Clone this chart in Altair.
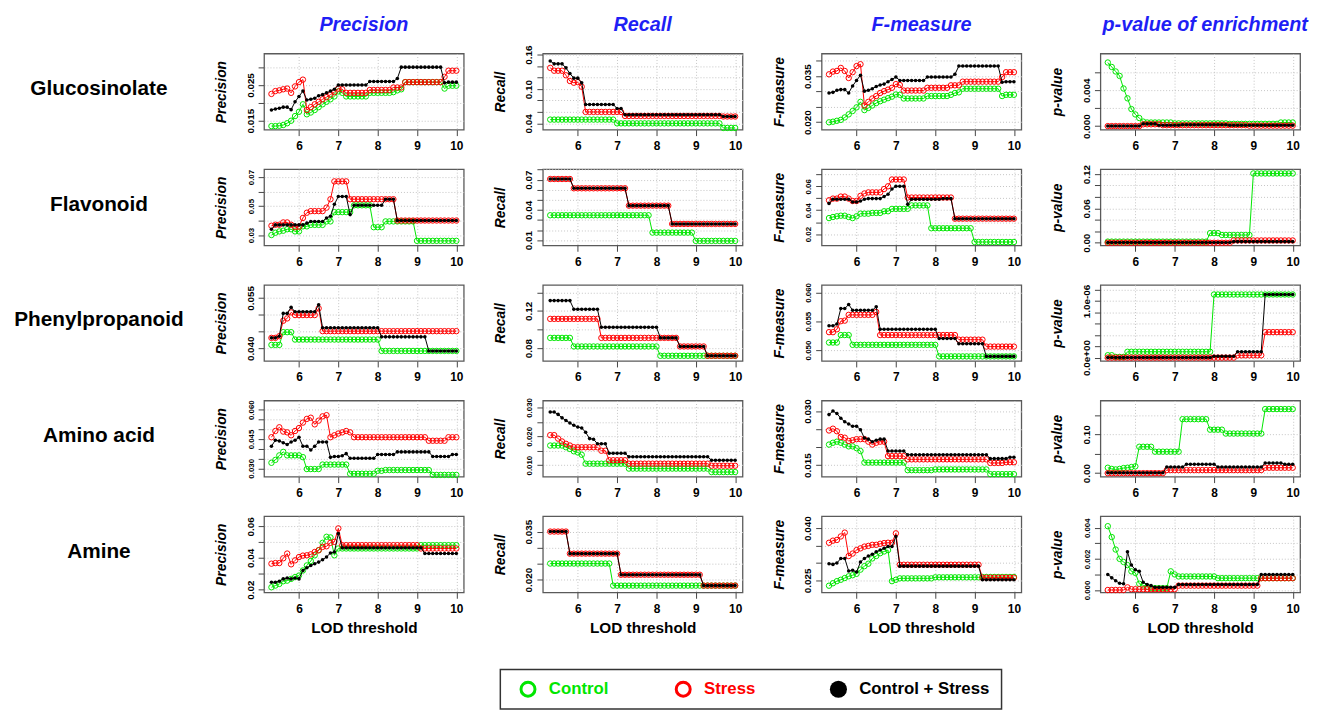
import altair as alt
import pandas as pd

FONT = "Liberation Sans"
X = [5.3, 5.4, 5.5, 5.6, 5.7, 5.8, 5.9, 6.0, 6.1, 6.2, 6.3, 6.4, 6.5, 6.6, 6.7, 6.8,
     6.9, 7.0, 7.1, 7.2, 7.3, 7.4, 7.5, 7.6, 7.7, 7.8, 7.9, 8.0, 8.1, 8.2, 8.3, 8.4,
     8.5, 8.6, 8.7, 8.8, 8.9, 9.0, 9.1, 9.2, 9.3, 9.4, 9.5, 9.6, 9.7, 9.8, 9.9, 10.0]
XTICKS = [6, 7, 8, 9, 10]
SERIES = ["Control", "Stress", "Control + Stress"]
COLORS = ["#00e600", "#ff0000", "#000000"]
ROWS = ["Glucosinolate", "Flavonoid", "Phenylpropanoid", "Amino acid", "Amine"]
COLS = ["Precision", "Recall", "F-measure", "p-value of enrichment"]
COL_DX = [0, 0, 0, 5]
YTITLES = ["Precision", "Recall", "F-measure", "p-value"]

# ---------------- Glucosinolate ----------------
gluc_prec_c = [0.0135, 0.0135, 0.0136, 0.0138, 0.0143, 0.015, 0.0163, 0.0175, 0.0196, 0.0168, 0.0173, 0.018, 0.0188, 0.0196, 0.0203, 0.021, 0.0218, 0.0232, 0.0228] + [0.0218]*6 + [0.0228]*6 + [0.023, 0.0235, 0.0238] + [0.0258]*10 + [0.024, 0.0248, 0.0248, 0.0248]
gluc_prec_s = [0.0225, 0.0233, 0.0235, 0.0238, 0.024, 0.0228, 0.0246, 0.0258, 0.0265, 0.018, 0.0188, 0.0196, 0.0203, 0.021, 0.0216, 0.0223, 0.023, 0.024, 0.0238] + [0.0228]*6 + [0.0236]*6 + [0.0243]*3 + [0.0258]*10 + [0.0273, 0.029, 0.029, 0.029]
gluc_prec_b = [0.018, 0.0183, 0.0185, 0.0188, 0.0188, 0.0181, 0.0203, 0.0218, 0.0233, 0.0208, 0.021, 0.0213, 0.022, 0.0223, 0.0228, 0.0233, 0.0238, 0.025] + [0.025]*7 + [0.026]*7 + [0.0268] + [0.030]*11 + [0.0256, 0.0258, 0.0258, 0.0258]

gluc_rec_c = [0.0466]*17 + [0.040]*27 + [0.032]*4
gluc_rec_s = [0.137, 0.132, 0.132, 0.132, 0.124, 0.114, 0.111, 0.112, 0.104] + [0.060]*10 + [0.053]*25 + [0.052]*4
gluc_rec_b = [0.149, 0.144, 0.144, 0.144, 0.137, 0.127, 0.119, 0.119, 0.111] + [0.073]*8 + [0.066]*2 + [0.055]*25 + [0.052]*4

gluc_f_c = [0.0199, 0.0201, 0.0204, 0.0207, 0.0215, 0.0225, 0.0236, 0.0248, 0.0266, 0.0239, 0.0246, 0.0254, 0.0262, 0.0268, 0.0273, 0.0278, 0.0283, 0.029, 0.0289] + [0.0277]*6 + [0.0285]*6 + [0.0289, 0.0295, 0.0297] + [0.0309]*10 + [0.0285, 0.0289, 0.0289, 0.0289]
gluc_f_s = [0.0356, 0.0365, 0.0367, 0.0377, 0.0367, 0.0344, 0.0363, 0.0383, 0.0389, 0.0254, 0.0266, 0.0277, 0.0285, 0.0295, 0.0301, 0.0306, 0.0312, 0.0324, 0.0321] + [0.0303]*6 + [0.0312]*6 + [0.032]*3 + [0.0332]*10 + [0.0347, 0.0363, 0.0363, 0.0363]
gluc_f_b = [0.0295, 0.0297, 0.0304, 0.0306, 0.0306, 0.0295, 0.0318, 0.0336, 0.0353, 0.0301, 0.0304, 0.0309, 0.0316, 0.0321, 0.0324, 0.0332, 0.0339, 0.0347] + [0.0336]*7 + [0.0347]*7 + [0.0356] + [0.0383]*11 + [0.033, 0.0332, 0.0332, 0.0332]

gluc_p_c = [0.0071, 0.0066, 0.0061, 0.0056, 0.0042, 0.0031, 0.0019, 0.0013, 0.0009, 0.0005] + [0.0004]*7 + [0.0003]*14 + [0.00025]*13 + [0.0004]*4
gluc_p_s = [0.0]*9 + [0.0002]*5 + [0.0001]*22 + [0.00005]*12
gluc_p_b = [0.0]*9 + [0.00025]*4 + [0.0001]*6 + [0.00015]*12 + [0.0001]*17

# ---------------- Flavonoid ----------------
flav_prec_c = [0.030, 0.0316, 0.0325, 0.033, 0.034, 0.034, 0.0325, 0.0325, 0.036, 0.036, 0.037, 0.037, 0.037, 0.037, 0.0394, 0.0394] + [0.0458]*5 + [0.0505]*5 + [0.0354]*3 + [0.0394]*8 + [0.026]*11
flav_prec_s = [0.0364, 0.0371, 0.0371, 0.0387, 0.0387, 0.0371, 0.0354, 0.0358, 0.0418, 0.0454, 0.0465, 0.0465, 0.0465, 0.0465, 0.0489, 0.0547, 0.067, 0.067, 0.067, 0.067] + [0.0547]*12 + [0.040]*16
flav_prec_b = [0.034, 0.037, 0.037, 0.037, 0.037, 0.037, 0.037, 0.037, 0.037, 0.0382, 0.0394, 0.0394, 0.0394, 0.0394, 0.0418, 0.0429, 0.0512, 0.0566, 0.0566, 0.0566, 0.0441] + [0.0505]*8 + [0.0547]*3 + [0.040]*16

flav_rec_c = [0.0347]*26 + [0.0175]*11 + [0.0093]*11
flav_rec_s = [0.0706]*6 + [0.0614]*14 + [0.0442]*11 + [0.0261]*17
flav_rec_b = [0.0706]*6 + [0.0614]*14 + [0.0442]*11 + [0.0261]*17

flav_f_c = [0.0334, 0.0343, 0.0349, 0.0354, 0.0354, 0.0343, 0.0334, 0.0349, 0.0371, 0.0371, 0.0371, 0.0377, 0.0377, 0.0377, 0.0391, 0.0391] + [0.0411]*5 + [0.044]*5 + [0.0249]*11 + [0.0134]*11
flav_f_s = [0.0483, 0.0497, 0.0497, 0.0514, 0.0514, 0.0497, 0.0477, 0.0477, 0.052, 0.054, 0.0549, 0.0549, 0.0549, 0.0549, 0.0577, 0.06, 0.0657, 0.0657, 0.0657, 0.0657] + [0.0506]*12 + [0.0329]*16
flav_f_b = [0.0457, 0.0491, 0.0491, 0.0491, 0.0491, 0.0491, 0.0469, 0.0469, 0.0477, 0.0491, 0.0497, 0.0497, 0.0497, 0.0497, 0.0514, 0.0534, 0.0577, 0.06, 0.06, 0.06, 0.0449] + [0.0491]*8 + [0.0497]*3 + [0.0329]*16

flav_p_c = [0.002]*26 + [0.0168]*3 + [0.0135]*8 + [0.121]*11
flav_p_s = [0.0]*32 + [0.004]*16
flav_p_b = [0.0005]*32 + [0.002]*16

# ---------------- Phenylpropanoid ----------------
phen_prec_c = [0.041]*3 + [0.0448]*3 + [0.0426]*22 + [0.0392]*20
phen_prec_s = [0.0431, 0.0431, 0.0436, 0.0482, 0.0489, 0.0507] + [0.0499]*6 + [0.0519] + [0.0451]*35
phen_prec_b = [0.0431, 0.0431, 0.0436, 0.0504, 0.0504, 0.0522] + [0.0509]*6 + [0.053] + [0.0461]*15 + [0.0434]*12 + [0.0392]*8

phen_rec_c = [0.0911]*6 + [0.0819]*22 + [0.0719]*20
phen_rec_s = [0.1115]*13 + [0.0911]*20 + [0.0819]*7 + [0.0719]*8
phen_rec_b = [0.1311]*6 + [0.1219]*7 + [0.1026]*15 + [0.0911]*5 + [0.0819]*7 + [0.0719]*8

phen_f_c = [0.0513]*3 + [0.0526]*3 + [0.0509]*22 + [0.0489]*20
phen_f_s = [0.0531, 0.0531, 0.0536, 0.055, 0.0551, 0.0561] + [0.0561]*6 + [0.0566] + [0.0526]*20 + [0.0518]*7 + [0.0506]*8
phen_f_b = [0.0542, 0.0542, 0.0545, 0.0572, 0.0572, 0.0579] + [0.0569]*6 + [0.0575] + [0.0536]*15 + [0.052]*5 + [0.0511]*7 + [0.0489]*8

phen_p_c = [0.042e-6]*2 + [0.012e-6]*3 + [0.103e-6]*22 + [1.115e-6]*21
phen_p_s = [0.0]*33 + [0.04e-6]*7 + [0.45e-6]*8
phen_p_b = [0.0]*27 + [0.024e-6]*6 + [0.103e-6]*7 + [1.115e-6]*8

# ---------------- Amino acid ----------------
amino_prec_c = [0.0328, 0.0343, 0.0366, 0.0384, 0.0366, 0.0366, 0.0366, 0.0366, 0.0357] + [0.0296]*4 + [0.0319]*7 + [0.0272]*7 + [0.0287]*2 + [0.0291]*12 + [0.0266]*7
amino_prec_s = [0.0459, 0.0491, 0.051, 0.0488, 0.0484, 0.0469, 0.0491, 0.0506, 0.0534, 0.0553, 0.0559, 0.0525, 0.0544, 0.0566, 0.0572, 0.0459, 0.0469, 0.0478, 0.0484, 0.0491, 0.0484] + [0.0459]*19 + [0.0441]*5 + [0.0459]*3
amino_prec_b = [0.0413, 0.0444, 0.044, 0.0431, 0.0422, 0.0435, 0.0444, 0.0459, 0.0413, 0.0413, 0.0394, 0.0413, 0.0435, 0.0435, 0.0435, 0.0356, 0.036, 0.036, 0.0364, 0.0375] + [0.0351]*7 + [0.0371]*5 + [0.0384]*9 + [0.036]*5 + [0.0371]*2

amino_rec_c = [0.0168]*4 + [0.0162, 0.0156, 0.0148, 0.0144, 0.0136] + [0.0105]*11 + [0.0088]*21 + [0.0076]*7
amino_rec_s = [0.0204, 0.0204, 0.0192, 0.0182, 0.0174, 0.0168] + [0.0162]*7 + [0.015]*2 + [0.0117]*5 + [0.0105]*21 + [0.0098]*7
amino_rec_b = [0.0284, 0.0284, 0.0276, 0.0264, 0.0255, 0.0246, 0.0238, 0.0232, 0.0229, 0.0214, 0.0192, 0.019] + [0.0174]*3 + [0.0141]*5 + [0.0129]*21 + [0.0117]*7

amino_f_c = [0.0207, 0.0212, 0.0215, 0.0212, 0.0207, 0.0202, 0.0202, 0.0197, 0.0189] + [0.0157]*11 + [0.0136]*7 + [0.0138]*14 + [0.0125]*7
amino_f_s = [0.0246, 0.0251, 0.0244, 0.0228, 0.0226, 0.0217, 0.0219, 0.0222, 0.0222, 0.0222, 0.0215, 0.0207, 0.0212, 0.0215, 0.0215] + [0.0175]*5 + [0.0166]*21 + [0.0156]*4 + [0.0158]*3
amino_f_b = [0.029, 0.030, 0.0293, 0.028, 0.027, 0.0264, 0.0258, 0.0258, 0.0248, 0.0225, 0.0222, 0.0215, 0.0219, 0.0222, 0.0222] + [0.0189]*5 + [0.0179]*21 + [0.0168]*5 + [0.0172]*2

amino_p_c = [0.014, 0.011, 0.0096, 0.011, 0.0132, 0.014, 0.0158, 0.0175] + [0.068]*4 + [0.0553]*7 + [0.139]*7 + [0.112]*4 + [0.102]*10 + [0.165]*8
amino_p_s = [0.0]*15 + [0.008]*25 + [0.014]*8
amino_p_b = [0.001]*15 + [0.0158]*5 + [0.0228]*8 + [0.0158]*12 + [0.026]*5 + [0.0228]*3

# ---------------- Amine ----------------
amine_prec_c = [0.0215, 0.0226, 0.0236, 0.0253, 0.0257, 0.0268, 0.0279, 0.0289, 0.0321, 0.0353, 0.0381, 0.0417, 0.0449, 0.0496, 0.0534, 0.053, 0.0417, 0.046] + [0.046]*20 + [0.0481]*10
amine_prec_s = [0.0364, 0.0368, 0.0368, 0.0398, 0.0428, 0.036, 0.0385, 0.0406, 0.0415, 0.0417, 0.0423, 0.0438, 0.0449, 0.047, 0.0474, 0.0496, 0.0502, 0.0587] + [0.0481]*20 + [0.046]*10
amine_prec_b = [0.0247, 0.0247, 0.0253, 0.0268, 0.0274, 0.0268, 0.0274, 0.0268, 0.0321, 0.0338, 0.0353, 0.0364, 0.0374, 0.0389, 0.0406, 0.0432, 0.0438, 0.0555] + [0.0464]*21 + [0.0428]*9

amine_rec_c = [0.025]*16 + [0.0181]*32
amine_rec_s = [0.035]*5 + [0.0281]*13 + [0.0215]*21 + [0.0181]*9
amine_rec_b = [0.035]*5 + [0.0281]*13 + [0.0215]*21 + [0.0181]*9

amine_f_c = [0.0235, 0.0242, 0.0248, 0.0252, 0.0257, 0.0262, 0.0265, 0.0269, 0.0281, 0.0291, 0.0298, 0.0313, 0.032, 0.0328, 0.0333, 0.0337, 0.0248, 0.0252] + [0.0256]*9 + [0.0259]*12 + [0.026]*9
amine_f_s = [0.0358, 0.0364, 0.0366, 0.0376, 0.0387, 0.032, 0.0327, 0.0337, 0.0342, 0.0347, 0.0349, 0.0352, 0.0352, 0.0355, 0.0357, 0.0358, 0.0358, 0.0385] + [0.0295]*21 + [0.0258]*9
amine_f_b = [0.0298, 0.0296, 0.03, 0.0313, 0.0313, 0.0277, 0.0279, 0.0274, 0.0303, 0.0313, 0.032, 0.0325, 0.0332, 0.0337, 0.0342, 0.0347, 0.0347, 0.0376] + [0.0291]*21 + [0.0252]*9

amine_p_c = [0.0041, 0.0034, 0.0026, 0.002, 0.0018, 0.0016, 0.0012, 0.0011, 0.0004, 0.0003, 0.0002] + [0.00012]*5 + [0.0012, 0.001] + [0.00087]*10 + [0.00076]*20
amine_p_s = [0.0]*5 + [0.00017] + [0.00005]*12 + [0.00028]*21 + [0.00076]*9
amine_p_b = [0.001, 0.00078, 0.0006, 0.00043, 0.0004, 0.00246, 0.0016, 0.0013, 0.0012, 0.0005, 0.00035, 0.00028] + [0.00017]*6 + [0.00035]*21 + [0.001]*9

DATA = [
    [(gluc_prec_c, gluc_prec_s, gluc_prec_b), (gluc_rec_c, gluc_rec_s, gluc_rec_b),
     (gluc_f_c, gluc_f_s, gluc_f_b), (gluc_p_c, gluc_p_s, gluc_p_b)],
    [(flav_prec_c, flav_prec_s, flav_prec_b), (flav_rec_c, flav_rec_s, flav_rec_b),
     (flav_f_c, flav_f_s, flav_f_b), (flav_p_c, flav_p_s, flav_p_b)],
    [(phen_prec_c, phen_prec_s, phen_prec_b), (phen_rec_c, phen_rec_s, phen_rec_b),
     (phen_f_c, phen_f_s, phen_f_b), (phen_p_c, phen_p_s, phen_p_b)],
    [(amino_prec_c, amino_prec_s, amino_prec_b), (amino_rec_c, amino_rec_s, amino_rec_b),
     (amino_f_c, amino_f_s, amino_f_b), (amino_p_c, amino_p_s, amino_p_b)],
    [(amine_prec_c, amine_prec_s, amine_prec_b), (amine_rec_c, amine_rec_s, amine_rec_b),
     (amine_f_c, amine_f_s, amine_f_b), (amine_p_c, amine_p_s, amine_p_b)],
]

# y-axis: domain, tick values, labelled ticks, format, label size
YAXES = [
    [dict(dom=[0.0125, 0.0338], ticks=[0.015, 0.020, 0.025, 0.030], labels=[0.015, 0.025], fmt=".3f", size=10),
     dict(dom=[0.029, 0.162], ticks=[0.04, 0.06, 0.08, 0.10, 0.12, 0.14, 0.16], labels=[0.04, 0.10, 0.16], fmt=".2f", size=10),
     dict(dom=[0.0175, 0.0424], ticks=[0.020, 0.025, 0.030, 0.035, 0.040], labels=[0.020, 0.035], fmt=".3f", size=10),
     dict(dom=[-0.0004, 0.0081], ticks=[0.0, 0.002, 0.004, 0.006], labels=[0.0, 0.004], fmt=".3f", size=10)],
    [dict(dom=[0.0229, 0.0754], ticks=[0.03, 0.04, 0.05, 0.06, 0.07], labels=[0.03, 0.05, 0.07], fmt=".2f", size=8),
     dict(dom=[0.0049, 0.0803], ticks=[0.01, 0.02, 0.03, 0.04, 0.05, 0.06, 0.07, 0.08], labels=[0.01, 0.04, 0.07], fmt=".2f", size=10),
     dict(dom=[0.0106, 0.0743], ticks=[0.02, 0.03, 0.04, 0.05, 0.06, 0.07], labels=[0.02, 0.04, 0.06], fmt=".2f", size=8),
     dict(dom=[-0.0045, 0.1284], ticks=[0.0, 0.02, 0.04, 0.06, 0.08, 0.10, 0.12], labels=[0.0, 0.06, 0.12], fmt=".2f", size=10)],
    [dict(dom=[0.0362, 0.0589], ticks=[0.040, 0.045, 0.050, 0.055], labels=[0.040, 0.055], fmt=".3f", size=10),
     dict(dom=[0.0663, 0.148], ticks=[0.08, 0.10, 0.12, 0.14], labels=[0.08, 0.12], fmt=".2f", size=10),
     dict(dom=[0.0481, 0.0613], ticks=[0.050, 0.055, 0.060], labels=[0.050, 0.055, 0.060], fmt=".3f", size=8),
     dict(dom=[-0.06e-6, 1.285e-6], ticks=[0.0, 0.2e-6, 0.4e-6, 0.6e-6, 0.8e-6, 1.0e-6, 1.2e-6], labels=[0.0, 1.0e-6], fmt=".1e", size=10)],
    [dict(dom=[0.0257, 0.0647], ticks=[0.030, 0.035, 0.040, 0.045, 0.050, 0.055, 0.060], labels=[0.030, 0.045, 0.060], fmt=".3f", size=8),
     dict(dom=[0.006, 0.0324], ticks=[0.010, 0.015, 0.020, 0.025, 0.030], labels=[0.010, 0.020, 0.030], fmt=".3f", size=8),
     dict(dom=[0.0118, 0.0329], ticks=[0.015, 0.020, 0.025, 0.030], labels=[0.015, 0.030], fmt=".3f", size=10),
     dict(dom=[-0.009, 0.187], ticks=[0.0, 0.05, 0.10, 0.15], labels=[0.0, 0.10], fmt=".2f", size=10)],
    [dict(dom=[0.0183, 0.0664], ticks=[0.02, 0.03, 0.04, 0.05, 0.06], labels=[0.02, 0.04, 0.06], fmt=".2f", size=10),
     dict(dom=[0.016, 0.0398], ticks=[0.020, 0.025, 0.030, 0.035], labels=[0.020, 0.035], fmt=".3f", size=10),
     dict(dom=[0.0216, 0.0434], ticks=[0.025, 0.030, 0.035, 0.040], labels=[0.025, 0.040], fmt=".3f", size=10),
     dict(dom=[-0.00015, 0.00474], ticks=[0.0, 0.001, 0.002, 0.003, 0.004], labels=[0.0, 0.002, 0.004], fmt=".3f", size=8)],
]

GRID = "#c4c4c4"
BLUE = "#1f1ff5"
PANEL_W, PANEL_H = 202, 77
LABEL_W = 174
COL_GAP = 80


def label_expr(labels, fmt, span):
    eps = span * 1e-4
    parts = []
    for v in labels:
        parts.append(f"abs(datum.value - ({v!r})) < {eps!r} ? '{format(v, fmt)}' : ")
    return "".join(parts) + "''"


def make_panel(r, c):
    cser, sser, bser = DATA[r][c]
    ax = YAXES[r][c]
    lo, hi = ax["dom"]
    df = pd.DataFrame({
        "x": X * 3,
        "value": list(cser) + list(sser) + list(bser),
        "series": [SERIES[0]] * len(X) + [SERIES[1]] * len(X) + [SERIES[2]] * len(X),
    })
    xkw = dict(values=XTICKS, format="d", grid=True, gridDash=[1, 2], gridColor=GRID,
               labelFontSize=12, labelFontWeight="bold", labelPadding=5, labelColor="black",
               tickSize=6, tickColor="#444444", domain=False)
    if r == len(ROWS) - 1:
        xaxis = alt.Axis(title="LOD threshold", titleFontSize=15.5, titleFontWeight="bold",
                         titlePadding=7, titleColor="black", **xkw)
    else:
        xaxis = alt.Axis(title=None, **xkw)
    xenc = alt.X("x:Q", scale=alt.Scale(domain=[5.112, 10.188], nice=False, zero=False), axis=xaxis)
    yaxis = alt.Axis(values=ax["ticks"], labelExpr=label_expr(ax["labels"], ax["fmt"], hi - lo),
                     labelAngle=270, labelAlign="center", labelBaseline="bottom",
                     labelFontSize=ax["size"], labelFontWeight="bold", labelPadding=3,
                     labelColor="black", labelOverlap=False,
                     tickSize=6, tickColor="#444444", domain=False,
                     grid=True, gridDash=[1, 2], gridColor=GRID,
                     minExtent=20, maxExtent=20,
                     title=YTITLES[c], titleFontSize=14, titleFontStyle="italic",
                     titleFontWeight="bold", titlePadding=16, titleColor="black")
    yenc = alt.Y("value:Q", scale=alt.Scale(domain=[lo, hi], nice=False, zero=False), axis=yaxis)
    base = alt.Chart(df)
    layers = []
    for s, col in zip(SERIES, COLORS):
        sub = base.transform_filter(alt.datum.series == s)
        layers.append(sub.mark_line(color=col, strokeWidth=1).encode(x=xenc, y=yenc))
        if s == SERIES[2]:
            layers.append(sub.mark_circle(color=col, size=13, opacity=1).encode(x=xenc, y=yenc))
        else:
            layers.append(sub.mark_point(shape="circle", filled=False, color=col, size=30,
                                         strokeWidth=1, opacity=1).encode(x=xenc, y=yenc))
    return alt.layer(*layers).properties(width=PANEL_W, height=PANEL_H)


def text_cell(txt, w, h, size=12, color="black", style="normal", dy=0, dx=0):
    df = pd.DataFrame({"t": [txt]})
    return alt.Chart(df).mark_text(
        font=FONT, fontSize=size, fontWeight="bold", fontStyle=style, color=color,
        dy=dy, dx=dx, align="center", baseline="middle"
    ).encode(text="t:N").properties(width=w, height=h, view=alt.ViewBackground(stroke="transparent"))


def legend_chart():
    df = pd.DataFrame({"label": SERIES})
    lx = alt.X("label:N", sort=SERIES, axis=None,
               scale=alt.Scale(domain=SERIES, range=[28, 342], padding=0))
    lc = alt.Color("label:N", scale=alt.Scale(domain=SERIES, range=COLORS), legend=None)
    base = alt.Chart(df)
    rings = base.transform_filter(alt.datum.label != SERIES[2]).mark_point(
        shape="circle", filled=False, size=200, strokeWidth=3, opacity=1).encode(x=lx, color=lc)
    dot = base.transform_filter(alt.datum.label == SERIES[2]).mark_circle(
        size=300, opacity=1).encode(x=lx, color=lc)
    txt = base.mark_text(align="left", baseline="middle", dx=21, fontSize=17, fontWeight="bold",
                         font=FONT).encode(x=lx, text="label:N", color=lc)
    return alt.layer(rings, dot, txt).properties(
        width=507, height=40, view=alt.ViewBackground(stroke="#333333", strokeWidth=1.5))


cells = [text_cell("", LABEL_W, 1, size=1)]
for c in range(4):
    cells.append(text_cell(COLS[c], PANEL_W, 1, size=20, color=BLUE, style="italic",
                           dy=12, dx=COL_DX[c]))
for r in range(5):
    cells.append(text_cell(ROWS[r], LABEL_W, PANEL_H, size=21, dy=-2.5))
    for c in range(4):
        cells.append(make_panel(r, c))

grid = alt.concat(*cells, columns=5, spacing={"row": 40, "column": COL_GAP}, bounds="flush")
legend_row = alt.hconcat(text_cell("", 491, 1, size=1), legend_chart(), spacing=0)

chart = alt.vconcat(grid, legend_row, spacing=31).properties(
    padding={"left": 4, "top": 0, "right": 0, "bottom": 0}
).configure(
    font=FONT
).configure_view(
    stroke="#5a5a5a", strokeWidth=1.3
)

chart.save("out.html", embed_options={"renderer": "svg", "actions": False})
